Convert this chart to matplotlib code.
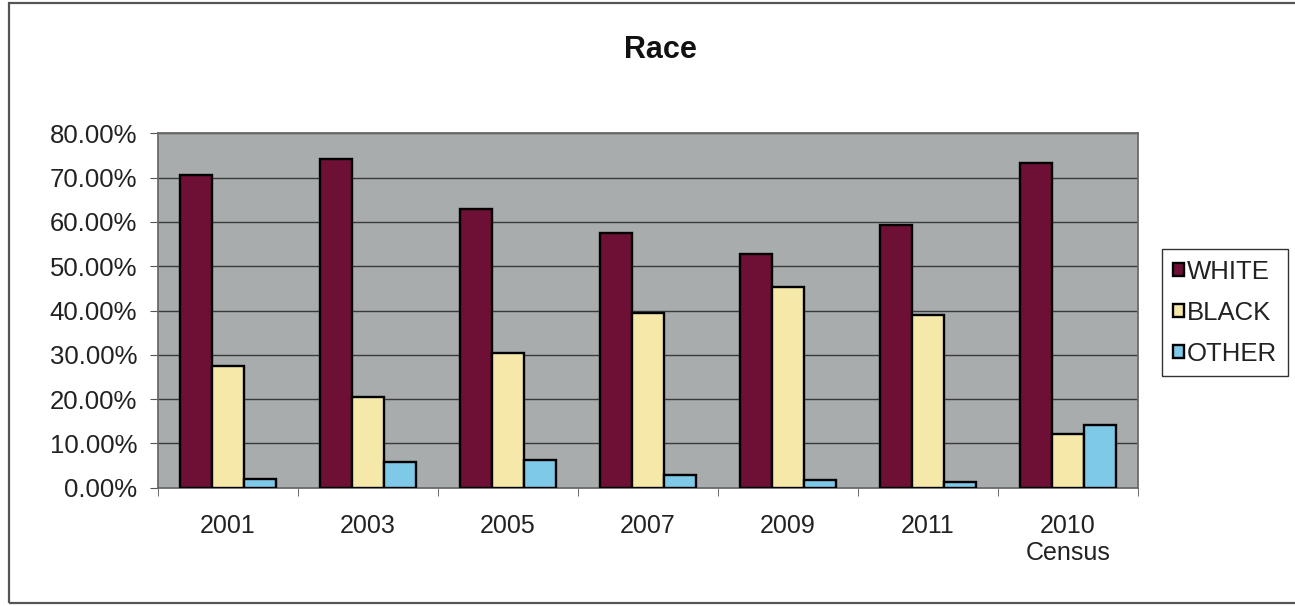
import matplotlib
matplotlib.use("Agg")
import matplotlib.pyplot as plt
import numpy as np
from matplotlib.patches import Rectangle
from matplotlib.ticker import FuncFormatter, MultipleLocator

categories = ["2001", "2003", "2005", "2007", "2009", "2011", "2010\nCensus"]
white = [70.5, 74.1, 63.0, 57.4, 52.8, 59.3, 73.2]
black = [27.5, 20.4, 30.5, 39.4, 45.3, 39.0, 12.2]
other = [1.9, 5.7, 6.2, 2.9, 1.7, 1.3, 14.1]
series_names = ["WHITE", "BLACK", "OTHER"]
colors = ["#6E0F36", "#F6E8A8", "#7EC8E8"]

plt.rcParams['font.family'] = ['Liberation Sans', 'DejaVu Sans']

fig = plt.figure(figsize=(12.95, 6.06), dpi=100)
ax = fig.add_axes([158/1295, 1-487.7/606, (1137.7-158)/1295, (487.7-133.3)/606])
ax.set_facecolor("#A8ACAD")

x = np.arange(len(categories))
w = 0.228
for i, (vals, name, c) in enumerate(zip([white, black, other], series_names, colors)):
    ax.bar(x + (i-1)*w, vals, width=w, color=c, edgecolor="black", linewidth=1.7,
           label=name, zorder=3)

ax.set_xlim(-0.5, len(categories)-0.5)
ax.set_ylim(0, 80)
ax.yaxis.set_major_locator(MultipleLocator(10))
ax.yaxis.set_major_formatter(FuncFormatter(lambda v, p: f"{v:.2f}%"))
ax.grid(axis='y', color="#3a3a3a", linewidth=1.0, zorder=1)
ax.set_axisbelow(True)

ax.set_xticks(x)
ax.set_xticklabels(categories, fontsize=18, color="#222222", linespacing=1.15)
ax.set_xticks(np.arange(-0.5, len(categories)), minor=True)
ax.tick_params(axis='x', which='major', length=0, pad=19)
ax.tick_params(axis='x', which='minor', length=6, direction='out', color="#555555")
ax.tick_params(axis='y', length=6, direction='out', pad=9, labelsize=18.5,
               labelcolor="#222222", color="#555555")

for s in ax.spines.values():
    s.set_color("#6a6a6a")
    s.set_linewidth(1.3)

leg = ax.legend(loc="upper left", bbox_to_anchor=(1162/1295, 1-249/606),
                bbox_transform=fig.transFigure, fontsize=18.5, frameon=True,
                fancybox=False, edgecolor="black", handlelength=0.42,
                handleheight=0.42, handletextpad=0.12, labelspacing=0.66,
                borderpad=0.42, borderaxespad=0)
leg.get_frame().set_linewidth(1.0)
for t in leg.get_texts():
    t.set_color("#222222")

fig.text(660/1295, 1-50/606, "Race", ha="center", va="center",
         fontsize=22, fontweight="bold", color="#111111")

fig.patches.append(Rectangle((9/1295, 3/606), 1.2, 1-6/606, transform=fig.transFigure,
                             fill=False, edgecolor="#555555", linewidth=1.6))

fig.savefig("out.png", dpi=100)
